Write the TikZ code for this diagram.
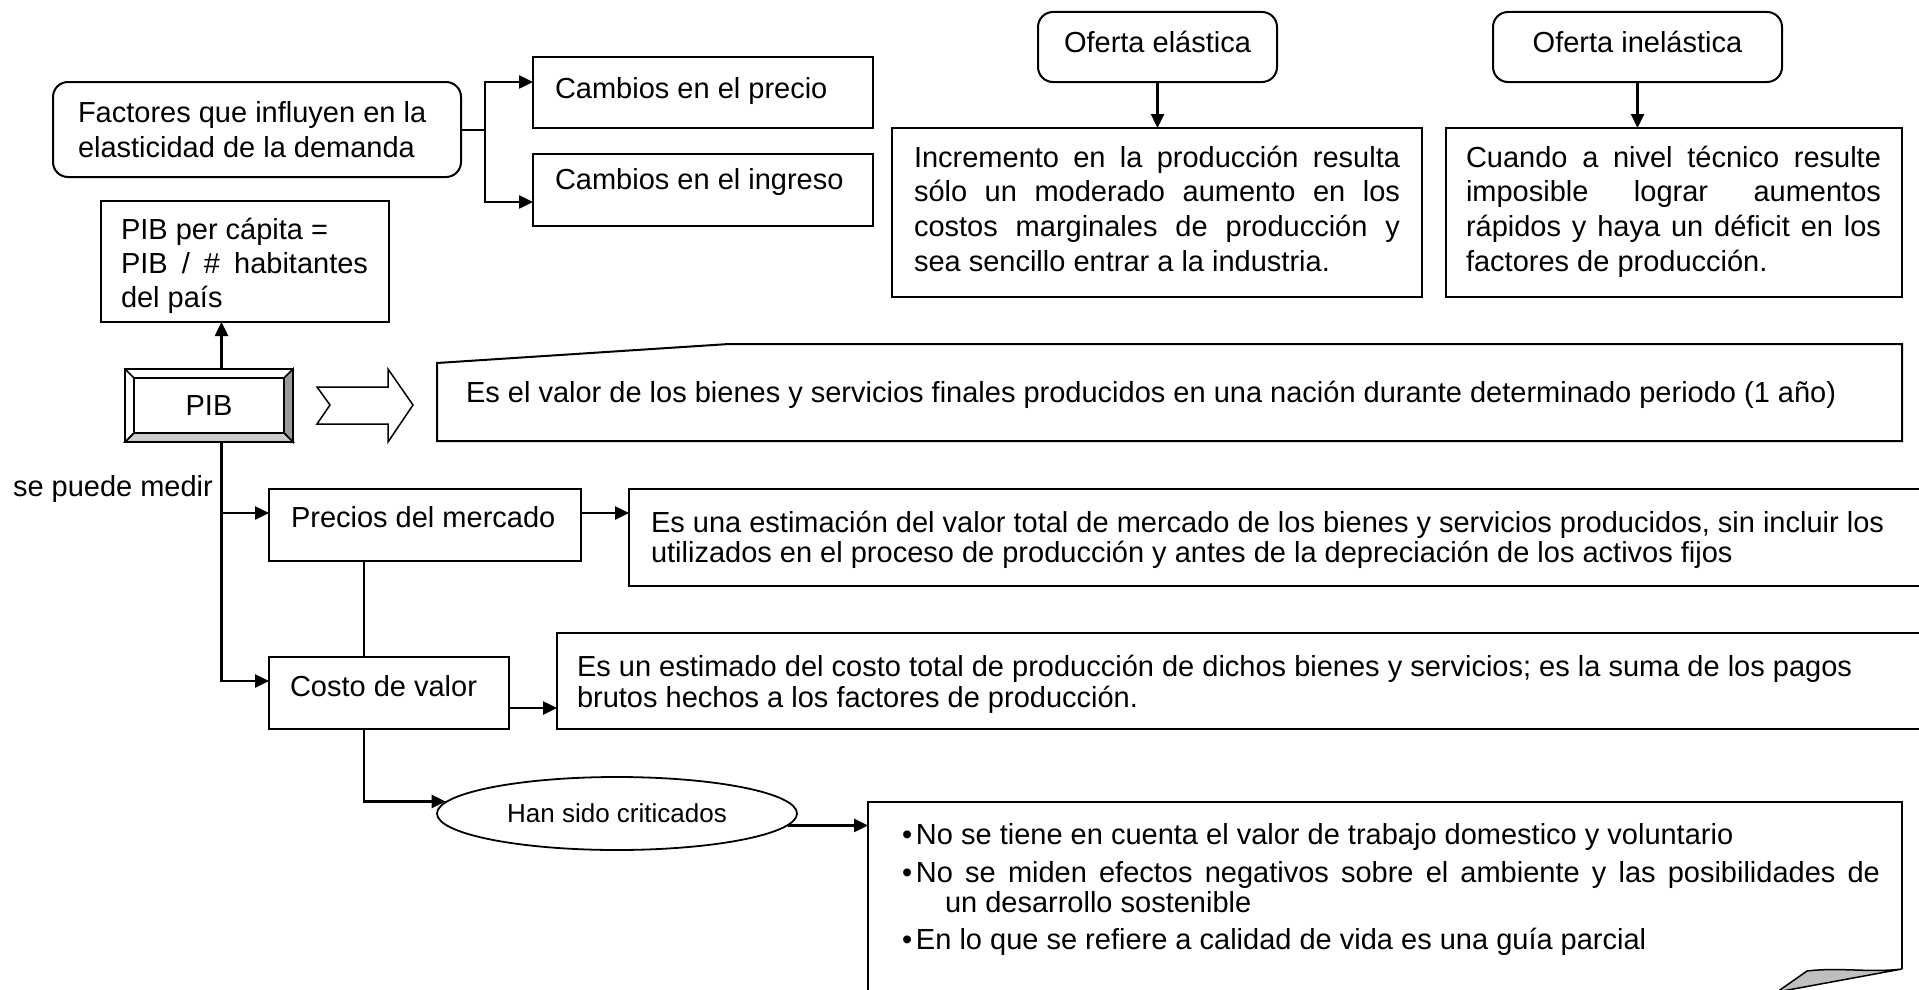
\documentclass[tikz,border=0pt]{standalone}
\usepackage{fontspec}
\setmainfont{Liberation Sans}
\usetikzlibrary{arrows.meta,shapes.geometric}
\hyphenpenalty=10000
\exhyphenpenalty=10000
\newcommand{\tst}{\rule{0pt}{24pt}}
\newcommand{\fsz}[2]{\fontsize{#1}{#2}\selectfont}
\newcommand{\jl}[2]{\makebox[#1][s]{#2}}
\begin{document}
\begin{tikzpicture}[x=1pt,y=-1pt,
  box/.style={draw, line width=2pt, fill=white, inner sep=0pt, outer sep=0pt, anchor=north west},
  rbox/.style={box, rounded corners=15pt},
  txt/.style={inner sep=0pt, outer sep=0pt, anchor=north west, align=left, font=\fsz{29}{34.5}},
  conn/.style={line width=2.5pt, -{Triangle[length=14pt,width=13pt]}},
  ln/.style={line width=2pt}]
\useasboundingbox (0,0) rectangle (1919,990);

% ---------- Oferta (top right)
\node[rbox, minimum width=239pt, minimum height=70pt, text height=21pt, text depth=10pt, font=\fsz{29}{34}] (oe) at (1038,12) {Oferta elástica};
\node[rbox, minimum width=289pt, minimum height=70pt, text height=21pt, text depth=10pt, font=\fsz{29}{34}] (oi) at (1493,12) {Oferta inelástica};
\node[box, minimum width=530pt, minimum height=169pt] (b1) at (892,128) {};
\node[box, minimum width=456pt, minimum height=169pt] (b2) at (1446,128) {};
\node[txt, font=\fsz{29}{34.7}] (t1) at (914,143) {\tst\jl{486pt}{Incremento en la producción resulta}\\
  \jl{486pt}{sólo un moderado aumento en los}\\
  \jl{486pt}{costos marginales de producción y}\\
  sea sencillo entrar a la industria.};
\node[txt, font=\fsz{29}{34.7}] (t2) at (1466,143) {\tst\jl{415pt}{Cuando a nivel técnico resulte}\\
  \jl{415pt}{imposible lograr aumentos}\\
  \jl{415pt}{rápidos y haya un déficit en los}\\
  factores de producción.};
\draw[conn] (oe.south) -- (oe.south |- b1.north);
\draw[conn] (oi.south) -- (oi.south |- b2.north);

% ---------- Factores
\node[rbox, minimum width=408pt, minimum height=95pt] (fac) at (53,82) {};
\node[txt, font=\fsz{29}{35}] (ft) at (78,98) {\tst Factores que influyen en la\\elasticidad de la demanda};
\node[box, minimum width=340pt, minimum height=71pt] (cp) at (533,57) {};
\node[txt] (cpt) at (555,75) {\tst Cambios en el precio};
\node[box, minimum width=340pt, minimum height=72pt] (ci) at (533,154) {};
\node[txt] (cit) at (555,165) {\tst Cambios en el ingreso};
\draw[ln] (fac.east) -- ++(24,0) coordinate (br);
\draw[conn] (br) |- ([yshift=10.5pt]cp.west);
\draw[conn] (br) |- ([yshift=-12pt]ci.west);

% ---------- PIB per capita
\node[box, minimum width=288pt, minimum height=121pt] (pc) at (101,201) {};
\node[txt, font=\fsz{29}{34}] (pct) at (121,215) {\tst PIB per cápita =\\\jl{247pt}{PIB / \# habitantes}\\del país};

% ---------- PIB bevel box
\node[box, minimum width=168pt, minimum height=73pt, font=\fsz{29}{34}] (pib) at (125,369) {PIB};
\draw[line width=1.5pt, fill=black!40] (pib.north east) -- (pib.south east) -- ([xshift=-9pt,yshift=9pt]pib.south east) -- ([xshift=-9pt,yshift=-9pt]pib.north east) -- cycle;
\draw[line width=1.5pt, fill=black!20] (pib.south west) -- (pib.south east) -- ([xshift=-9pt,yshift=9pt]pib.south east) -- ([xshift=9pt,yshift=9pt]pib.south west) -- cycle;
\draw[line width=1.5pt] ([xshift=9pt,yshift=-9pt]pib.north west) rectangle ([xshift=-9pt,yshift=9pt]pib.south east);
\draw[line width=1.5pt] (pib.north west) -- ([xshift=9pt,yshift=-9pt]pib.north west);
\draw[line width=1.5pt] (pib.south west) -- ([xshift=9pt,yshift=9pt]pib.south west);
\draw[line width=2pt] (pib.north west) rectangle (pib.south east);
\coordinate (pn) at ([xshift=12.5pt]pib.north);
\coordinate (ps) at ([xshift=12.5pt]pib.south);
\draw[conn] (pn) -- (pn |- pc.south);

% ---------- block arrow
\draw[line width=1.5pt, fill=white] (317,387) -- (388,387) -- (388,369) -- (413,405) -- (388,442) -- (388,424) -- (317,424) -- (330,405) -- cycle;

% ---------- Es el valor
\draw[ln, fill=white] (437,441) -- (437,363) -- (729,344) -- (1902,344) -- (1902,441) -- cycle;
\node[txt] (evt) at (466,378) {\tst Es el valor de los bienes y servicios finales producidos en una nación durante determinado periodo (1 año)};

% ---------- se puede medir
\node[txt] (spm) at (13,472) {\tst se puede medir};

% ---------- Precios del mercado
\node[box, minimum width=312pt, minimum height=72pt] (pm) at (269,489) {};
\node[txt] (pmt) at (291,503) {\tst Precios del mercado};
\node[box, minimum width=1300pt, minimum height=97pt] (eu) at (629,489) {};
\node[txt, font=\fsz{29}{30}] (eut) at (651,508) {\tst Es una estimación del valor total de mercado de los bienes y servicios producidos, sin incluir los\\utilizados en el proceso de producción y antes de la depreciación de los activos fijos};
\coordinate (pa) at ([yshift=12pt]pm.west);
\draw[conn] (pa -| ps) -- (pa);
\coordinate (pb) at ([yshift=12pt]pm.east);
\draw[conn] (pb) -- (pb -| eu.west);

% ---------- Han sido criticados
\node[draw, ellipse, line width=1.8pt, fill=white, minimum width=360pt, minimum height=73pt, inner sep=0pt, font=\fsz{26}{30}] (hc) at (617,813.5) {Han sido criticados};
\coordinate (pd) at ([xshift=-61pt]pm.south);
\draw[conn] (pd) |- (hc.176);

% ---------- Costo de valor
\node[box, minimum width=240pt, minimum height=72pt] (cv) at (269,657) {};
\node[txt] (cvt) at (290,672) {\tst Costo de valor};
\draw[conn] (ps) |- ([yshift=12pt]cv.west);
\node[box, minimum width=1400pt, minimum height=96pt] (ee) at (557,633) {};
\node[txt, font=\fsz{29}{31}] (eet) at (577,652) {\tst Es un estimado del costo total de producción de dichos bienes y servicios; es la suma de los pagos\\brutos hechos a los factores de producción.};
\coordinate (ca) at ([yshift=-15pt]cv.east);
\draw[conn] (ca) -- (ca -| ee.west);

% ---------- criticisms box
\node[inner sep=0pt, outer sep=0pt, minimum width=1034pt, minimum height=200pt, anchor=north west] (bx) at (868,802) {};
\draw[ln] (868,1000) -- (bx.north west) -- (bx.north east) -- (1902,969);
\draw[line width=1.5pt, fill=black!25] (1807,971) .. controls (1840,967) and (1870,973) .. (1902,969) -- (1777,992) -- cycle;
\coordinate (hb) at (hc.-4);
\draw[conn] (hb) -- (hb -| bx.west);
\node[txt, font=\fsz{29}{30}] (bt) at (902,820) {\tst\makebox[14pt][l]{\textbullet}No se tiene en cuenta el valor de trabajo domestico y voluntario\\[8pt]
  \makebox[14pt][l]{\textbullet}\jl{964pt}{No se miden efectos negativos sobre el ambiente y las posibilidades de}\\
  \hspace*{43pt}un desarrollo sostenible\\[7pt]
  \makebox[14pt][l]{\textbullet}En lo que se refiere a calidad de vida es una guía parcial};
\end{tikzpicture}
\end{document}
